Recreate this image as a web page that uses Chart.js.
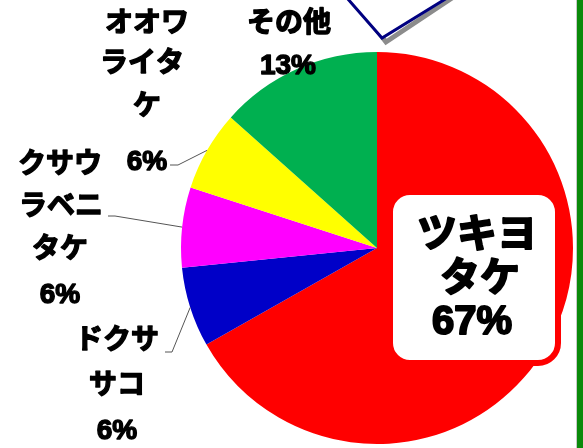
<!DOCTYPE html>
<html>
<head>
<meta charset="utf-8">
<script src="https://cdn.jsdelivr.net/npm/chart.js@4"></script>
<style>
html,body{margin:0;padding:0;background:#fff;overflow:hidden;}
canvas{display:block;}
</style>
</head>
<body>
<canvas id="c" width="583" height="448"></canvas>
<script>
// ---- data ----
const categories = ['ツキヨタケ', 'ドクササコ', 'クサウラベニタケ', 'オオワライタケ', 'その他'];
const values = [66.8, 6.6, 6.6, 6.6, 13.4];
const percentLabels = ['67%', '6%', '6%', '6%', '13%'];
const colors = ['#FF0000', '#0000C8', '#FF00FF', '#FFFF00', '#00B050'];

// ---- label layout (text lines per slice, positions in px) ----
const labelLines = [
  [['ツキヨ', 477, 236], ['タケ', 480, 280], ['67%', 472, 323]],
  [['ドクサ', 117, 341], ['サコ', 117, 386], ['6%', 117, 431]],
  [['クサウ', 60, 165], ['ラベニ', 61, 207], ['タケ', 60, 250], ['6%', 60, 295]],
  [['オオワ', 147, 24], ['ライタ', 142, 64], ['ケ', 147, 107], ['6%', 147, 162]],
  [['その他', 289, 24], ['13%', 288, 66]]
];
// leader line elbows (null = no leader)
const leaders = [null, [[172, 352], [165, 352]], [[115, 216], [108, 216]], [[178, 165], [170, 165]], null];

const FONT_FAMILY = '"Liberation Sans", "Noto Sans CJK JP", sans-serif';

const annotations = {
  id: 'annotations',
  afterDraw(chart) {
    const ctx = chart.ctx;
    const meta = chart.getDatasetMeta(0);
    ctx.save();

    // callout bubble tail at top
    ctx.lineJoin = 'miter';
    ctx.strokeStyle = '#8c8c8c';
    ctx.lineWidth = 5;
    ctx.beginPath();
    ctx.moveTo(352, -2); ctx.lineTo(386, 42); ctx.lineTo(452, -2);
    ctx.stroke();
    ctx.fillStyle = '#fff';
    ctx.beginPath();
    ctx.moveTo(347, -2); ctx.lineTo(382, 38); ctx.lineTo(447, -2);
    ctx.closePath();
    ctx.fill();
    ctx.strokeStyle = '#000080';
    ctx.lineWidth = 3;
    ctx.beginPath();
    ctx.moveTo(347, -2); ctx.lineTo(382, 38); ctx.lineTo(447, -2);
    ctx.stroke();

    // right green frame
    ctx.fillStyle = '#c8c8c8';
    ctx.fillRect(576, 0, 1, chart.height);
    ctx.fillStyle = '#0A8A0A';
    ctx.fillRect(577, 0, 6, chart.height);

    // leader lines from slice mid-angle on the rim
    ctx.strokeStyle = '#555';
    ctx.lineWidth = 1;
    meta.data.forEach((arc, i) => {
      const L = leaders[i];
      if (!L) return;
      const p = arc.getProps(['x', 'y', 'startAngle', 'endAngle', 'outerRadius'], true);
      const mid = (p.startAngle + p.endAngle) / 2;
      const sx = p.x + Math.cos(mid) * p.outerRadius;
      const sy = p.y + Math.sin(mid) * p.outerRadius;
      ctx.beginPath();
      ctx.moveTo(sx, sy);
      L.forEach(pt => ctx.lineTo(pt[0], pt[1]));
      ctx.stroke();
    });

    // white rounded box for the big slice label
    ctx.fillStyle = '#fff';
    ctx.strokeStyle = '#FF0000';
    ctx.lineWidth = 6;
    ctx.beginPath();
    ctx.roundRect(390, 192, 168, 171, 20);
    ctx.fill();
    ctx.stroke();

    // texts
    ctx.fillStyle = '#000';
    ctx.strokeStyle = '#000';
    ctx.lineJoin = 'round';
    ctx.textAlign = 'center';
    ctx.textBaseline = 'middle';
    labelLines.forEach((lines, i) => {
      const size = i === 0 ? 40 : 28;
      ctx.lineWidth = i === 0 ? 2 : 1.4;
      ctx.font = 'bold ' + size + 'px ' + FONT_FAMILY;
      lines.forEach(l => {
        ctx.fillText(l[0], l[1], l[2]);
        ctx.strokeText(l[0], l[1], l[2]);
      });
    });
    ctx.restore();
  }
};

new Chart(document.getElementById('c'), {
  type: 'pie',
  data: {
    labels: categories,
    datasets: [{
      data: values,
      backgroundColor: colors,
      borderWidth: 0
    }]
  },
  options: {
    responsive: false,
    animation: false,
    devicePixelRatio: 1,
    layout: { padding: { left: 181, right: 10, top: 52, bottom: 4 } },
    plugins: { legend: { display: false }, tooltip: { enabled: false } }
  },
  plugins: [annotations]
});
</script>
</body>
</html>
